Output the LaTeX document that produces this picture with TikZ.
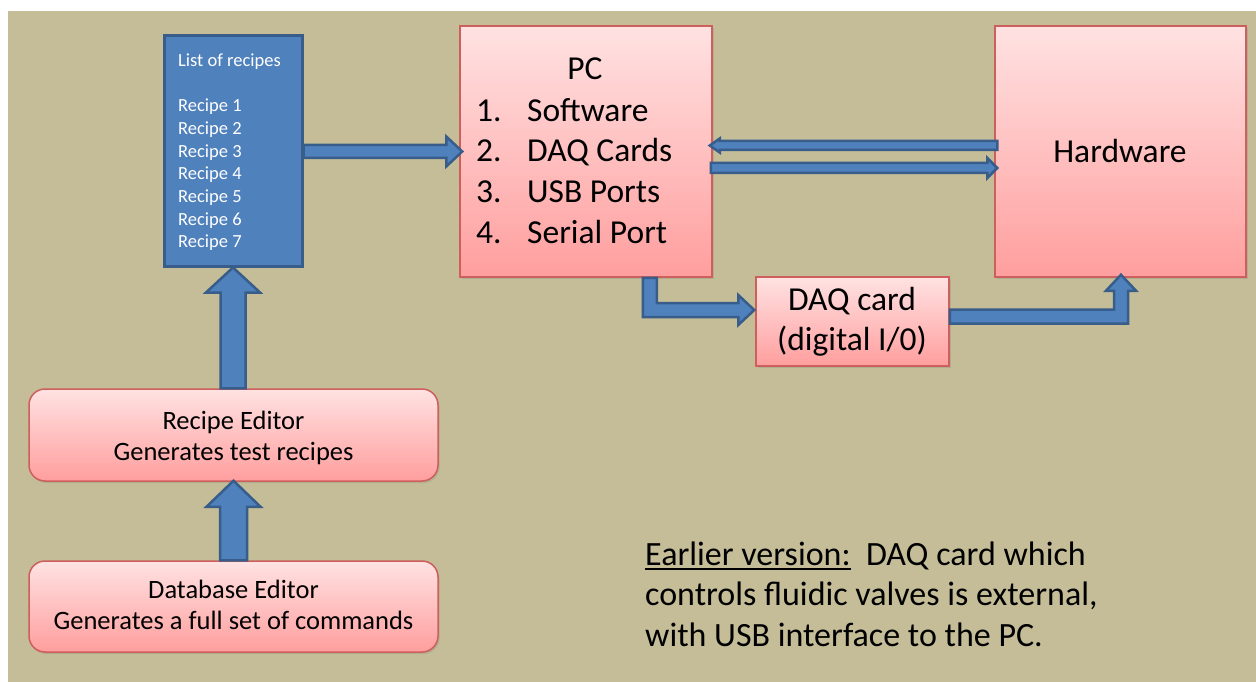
\documentclass[tikz,border=0pt]{standalone}
\usepackage{fontspec}
\setmainfont{Carlito}
\usetikzlibrary{calc,shadows}
\definecolor{bgtan}{RGB}{196,189,151}
\definecolor{bfill}{RGB}{79,129,189}
\definecolor{bline}{RGB}{56,93,138}
\definecolor{ptop}{RGB}{255,226,226}
\definecolor{pbot}{RGB}{255,158,158}
\definecolor{pline}{RGB}{205,95,92}
\newcommand\ulin[1]{\setbox0\hbox{#1}\rlap{\rule[-5pt]{\wd0}{1.8pt}}\box0}
% horizontal block arrow: start, tip, half shaft, half head, signed head length
\newcommand\harrow[5]{%
  \draw[barrow] let \p1=(#1), \p2=(#2) in
   ({\x1},{\y2+(#3)}) -- ({\x2-(#5)},{\y2+(#3)}) -- ({\x2-(#5)},{\y2+(#4)}) -- (\p2)
   -- ({\x2-(#5)},{\y2-(#4)}) -- ({\x2-(#5)},{\y2-(#3)}) -- ({\x1},{\y2-(#3)}) -- cycle;}
% vertical block arrow: start, tip, half shaft, half head, signed head length
\newcommand\varrow[5]{%
  \draw[barrow] let \p1=(#1), \p2=(#2) in
   ({\x2+(#3)},{\y1}) -- ({\x2+(#3)},{\y2-(#5)}) -- ({\x2+(#4)},{\y2-(#5)}) -- (\p2)
   -- ({\x2-(#4)},{\y2-(#5)}) -- ({\x2-(#3)},{\y2-(#5)}) -- ({\x2-(#3)},{\y1}) -- cycle;}
\begin{document}
\begin{tikzpicture}[x=1pt,y=-1pt,
  pinkbox/.style={draw=pline, line width=1.5pt, top color=ptop, bottom color=pbot, inner sep=0pt,
    drop shadow={shadow xshift=1.5pt, shadow yshift=-2pt, opacity=0.25}},
  bluebox/.style={draw=bline, line width=3pt, fill=bfill, inner sep=0pt},
  barrow/.style={draw=bline, line width=2.5pt, fill=bfill, line join=miter},
  big/.style={inner sep=0pt, font=\fontsize{33.5pt}{40pt}\selectfont},
  note/.style={inner sep=0pt, font=\fontsize{34pt}{40pt}\selectfont},
  mid/.style={inner sep=0pt, font=\fontsize{26.5pt}{32pt}\selectfont},
  small/.style={inner sep=0pt, text=white, font=\fontsize{18.5pt}{22.7pt}\selectfont}]
\useasboundingbox (0,0) rectangle (1256,682);
\fill[white] (0,0) rectangle (1256,682);
\fill[bgtan] (8,11) rectangle (1256,682);

% boxes
\node[bluebox, minimum width=138pt, minimum height=230pt] (list) at (233,151) {};
\node[pinkbox, minimum width=252pt, minimum height=251pt] (pc) at (586,151.5) {};
\node[pinkbox, minimum width=251pt, minimum height=251pt] (hw) at (1120.5,151.5) {};
\node[pinkbox, minimum width=193pt, minimum height=89pt] (daq) at (852.5,321.5) {};
\node[pinkbox, rounded corners=16pt, minimum width=409pt, minimum height=92pt] (recipe) at (233.5,435) {};
\node[pinkbox, rounded corners=16pt, minimum width=409pt, minimum height=91pt] (db) at (233.5,606.5) {};

% list text
\node[small, anchor=base west] (listtitle) at (178,66.7) {List of recipes};
\foreach \i in {1,...,7}
  \node[small, anchor=base west] (r\i) at (178,{111.7+22.7*(\i-1)}) {Recipe \i};

% PC text
\node[big, anchor=base] (pct) at (585,80) {PC};
\node[big, anchor=base west] (n1) at (476,121.5) {1.};
\node[big, anchor=base west] (t1) at (527,121.5) {Software};
\node[big, anchor=base west] (n2) at (476,162) {2.};
\node[big, anchor=base west] (t2) at (527,162) {DAQ Cards};
\node[big, anchor=base west] (n3) at (476,202.5) {3.};
\node[big, anchor=base west] (t3) at (527,202.5) {USB Ports};
\node[big, anchor=base west] (n4) at (476,243) {4.};
\node[big, anchor=base west] (t4) at (527,243) {Serial Port};

% Hardware, DAQ text
\node[big, anchor=base] (hwt) at (1120,162.7) {Hardware};
\node[big, anchor=base] (daq1) at (852,310.5) {DAQ card};
\node[big, anchor=base] (daq2) at (852,350.7) {(digital I/0)};

% editors text
\node[mid, anchor=base] (re1) at (233.5,429) {Recipe Editor};
\node[mid, anchor=base] (re2) at (233.5,460) {Generates test recipes};
\node[mid, anchor=base] (db1) at (233.5,598) {Database Editor};
\node[mid, anchor=base] (db2) at (233.5,629) {Generates a full set of commands};

% note
\node[note, anchor=base west] (note1) at (645,565) {\ulin{Earlier version:}\ \ DAQ card which};
\node[note, anchor=base west] (note2) at (645,605.5) {controls fluidic valves is external,};
\node[note, anchor=base west] (note3) at (645,646) {with USB interface to the PC.};

% arrows
\harrow{list.east}{$(pc.west)+(3,0)$}{6.5pt}{15pt}{16pt}
\harrow{$(hw.west)+(3,-6)$}{$(pc.east)+(-3,-6)$}{4.5pt}{7pt}{-10pt}
\harrow{$(pc.east)+(-2,16.5)$}{$(hw.west)+(3,16.5)$}{5pt}{10pt}{10pt}
\varrow{recipe.north}{list.south}{12.5pt}{27pt}{25pt}
\varrow{db.north}{$(recipe.south)+(0,-1)$}{13.5pt}{27pt}{26pt}
\draw[barrow] let \p1=($(pc.south east)+(-63,0)$), \p2=($(daq.west)+(-1,-11.5)$) in
  ({\x1-7pt},{\y1}) -- ({\x1-7pt},{\y2-7pt}) -- ({\x2-16pt},{\y2-7pt}) -- ({\x2-16pt},{\y2-15pt})
  -- (\p2) -- ({\x2-16pt},{\y2+15pt}) -- ({\x2-16pt},{\y2+7pt}) -- ({\x1+7pt},{\y2+7pt})
  -- ({\x1+7pt},{\y1}) -- cycle;
\draw[barrow] let \p1=($(daq.east)+(0,-5)$), \p2=($(hw.south)+(0.5,-3)$) in
  ({\x1},{\y1+7pt}) -- ({\x2-7pt},{\y1+7pt}) -- ({\x2-7pt},{\y2-16pt}) -- ({\x2-15pt},{\y2-16pt})
  -- (\p2) -- ({\x2+15pt},{\y2-16pt}) -- ({\x2+7pt},{\y2-16pt}) -- ({\x2+7pt},{\y1-7pt})
  -- ({\x1},{\y1-7pt}) -- cycle;
\end{tikzpicture}
\end{document}
